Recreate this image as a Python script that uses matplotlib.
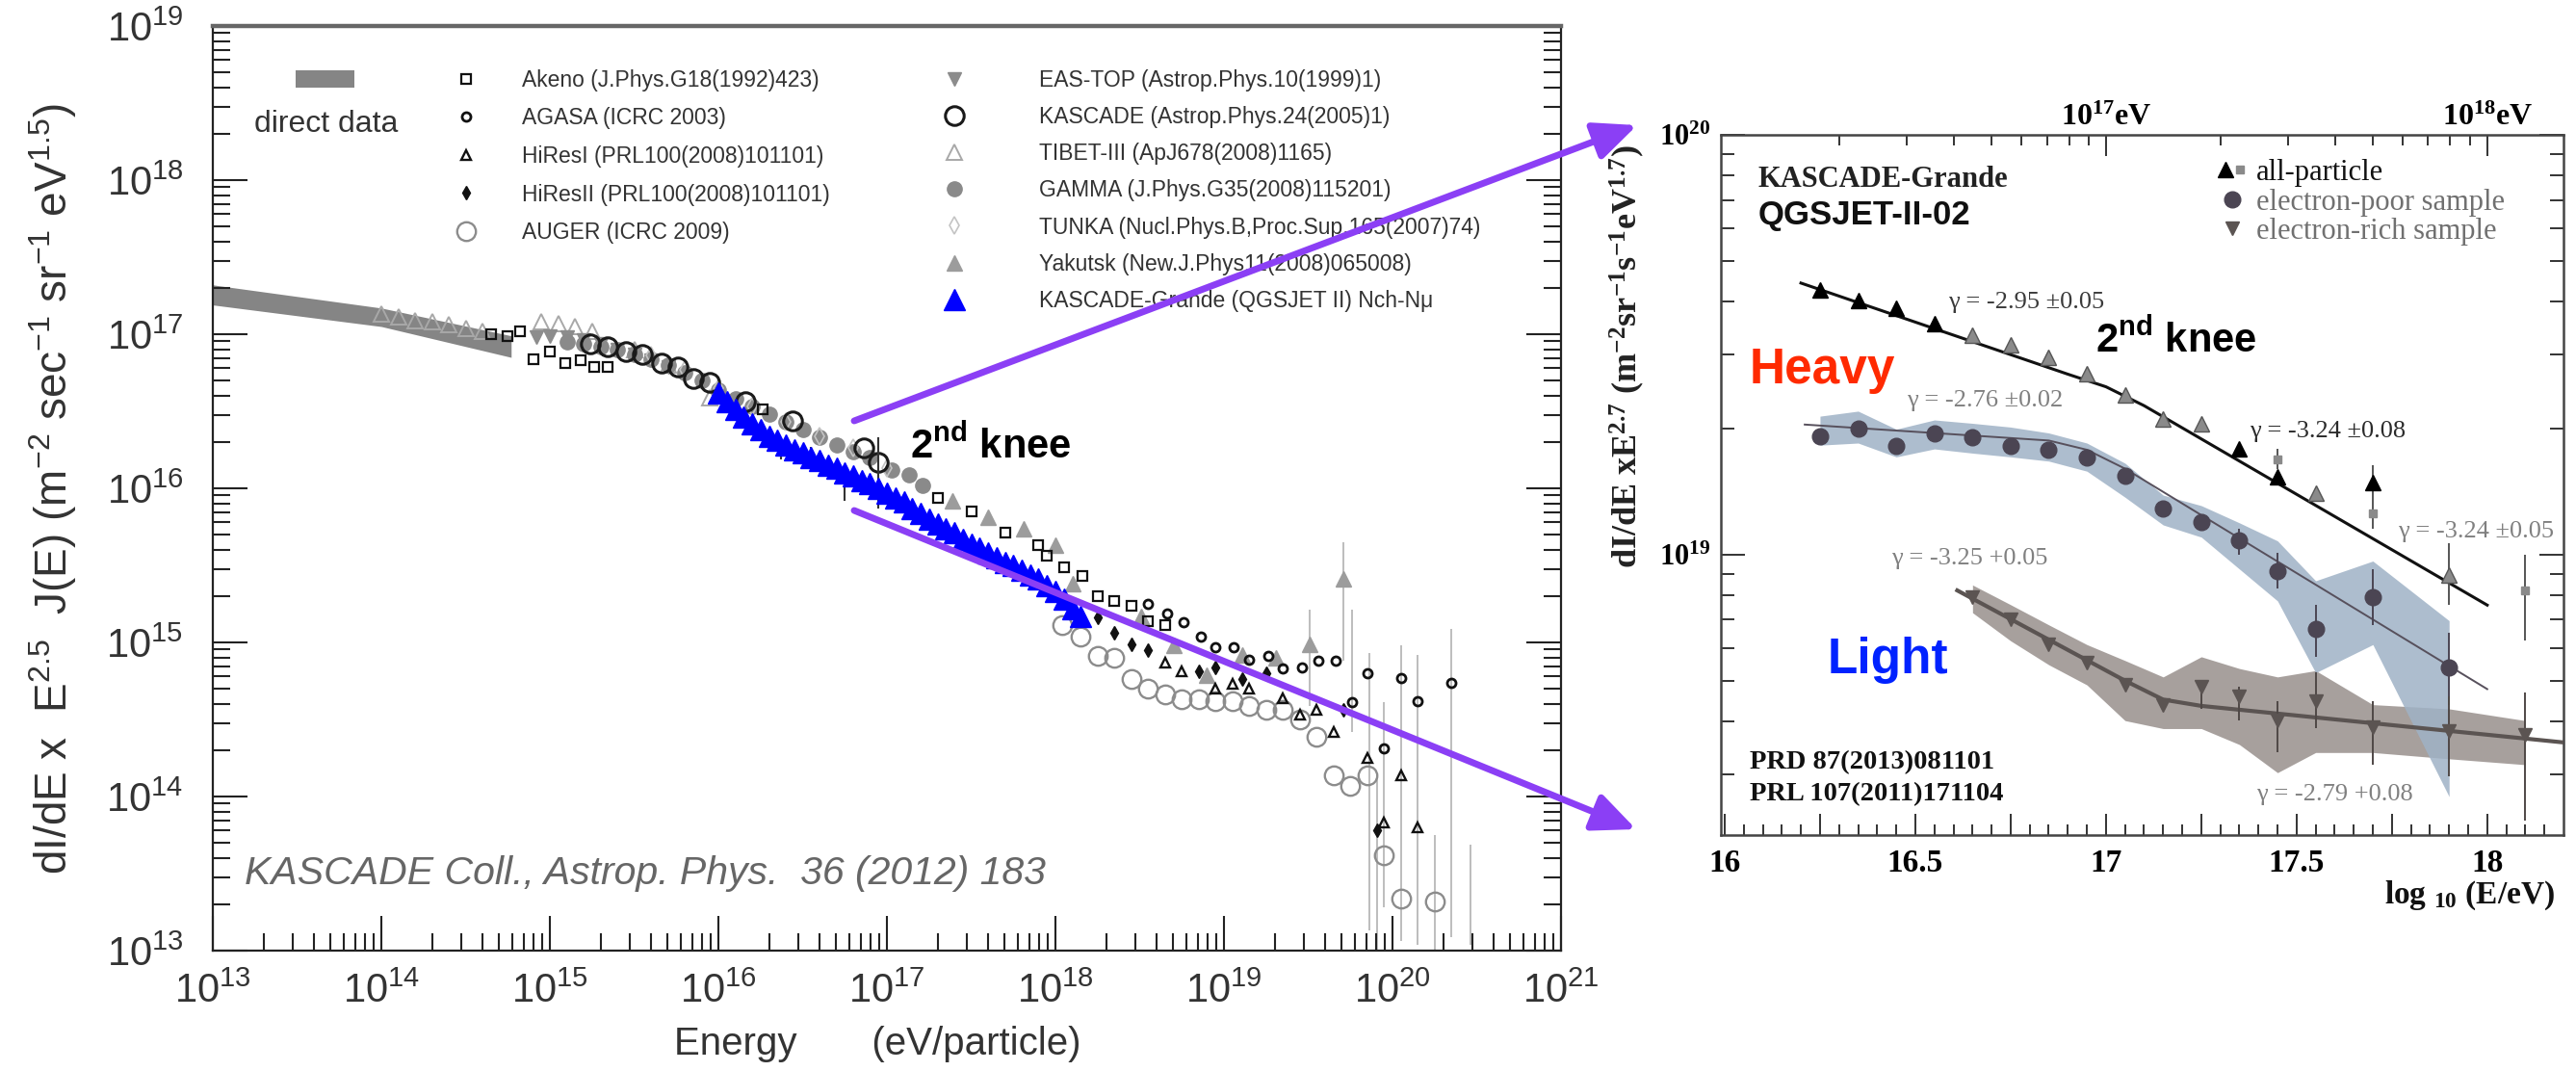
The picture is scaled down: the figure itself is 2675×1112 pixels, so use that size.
import numpy as np
import matplotlib
matplotlib.use('Agg')
import matplotlib.pyplot as plt
from matplotlib.patches import FancyArrowPatch
from matplotlib.legend_handler import HandlerTuple
from matplotlib.ticker import LogLocator, FuncFormatter, NullFormatter

SANS = ['Liberation Sans', 'DejaVu Sans']
SERIF = ['Liberation Serif', 'DejaVu Serif']
plt.rcParams['font.family'] = SANS

# ---------------- left panel data (log10 E [eV], log10 flux) ----------------
direct_logE = [13.0, 14.0, 14.77]
direct_hi = [17.32, 17.17, 16.99]
direct_lo = [17.19, 17.05, 16.85]

tibet_logE = [14.0, 14.1, 14.2, 14.3, 14.4, 14.5, 14.6, 14.95, 15.05, 15.15, 15.25, 15.5, 15.7, 15.95]
tibet_logF = [17.13, 17.11, 17.09, 17.08, 17.06, 17.04, 17.02, 17.08, 17.07, 17.05, 17.02, 16.90, 16.80, 16.59]

eastop_logE = [14.92, 15.0, 15.1, 15.2, 15.3, 15.4, 15.5, 15.6, 15.7]
eastop_logF = [16.98, 16.99, 16.98, 16.96, 16.94, 16.90, 16.87, 16.83, 16.79]

gamma_logE = [15.1, 15.2, 15.3, 15.4, 15.5, 15.6, 15.7, 15.8, 15.9, 16.0, 16.1, 16.2, 16.3, 16.4,
              16.5, 16.6, 16.7, 16.8, 16.9, 17.03, 17.13, 17.21]
gamma_logF = [16.95, 16.94, 16.92, 16.90, 16.87, 16.84, 16.80, 16.75, 16.70, 16.64, 16.58, 16.53,
              16.48, 16.43, 16.38, 16.33, 16.28, 16.24, 16.20, 16.12, 16.09, 16.02]

tunka_logE = [15.6, 15.8, 16.0, 16.2, 16.4, 16.6, 16.8, 17.0]
tunka_logF = [16.86, 16.77, 16.65, 16.53, 16.43, 16.34, 16.26, 16.13]

kascade_logE = [15.24, 15.34, 15.45, 15.55, 15.66, 15.76, 15.85, 15.95, 16.16, 16.44, 16.86, 16.95]
kascade_logF = [16.94, 16.92, 16.89, 16.87, 16.81, 16.79, 16.71, 16.69, 16.56, 16.44, 16.26, 16.17]

akeno_logE = [14.65, 14.75, 14.82, 14.90, 15.00, 15.09, 15.18, 15.26, 15.34, 16.26, 17.30, 17.50,
              17.70, 17.90, 17.95, 18.05, 18.16, 18.25, 18.35, 18.45, 18.55, 18.65]
akeno_logF = [17.00, 16.99, 17.02, 16.84, 16.89, 16.81, 16.83, 16.79, 16.79, 16.51, 15.94, 15.85,
              15.71, 15.63, 15.56, 15.49, 15.43, 15.30, 15.27, 15.24, 15.14, 15.11]

agasa_logE = [18.55, 18.66, 18.76, 18.86, 18.95, 19.06, 19.15, 19.26, 19.35, 19.46, 19.56, 19.66,
              19.76, 19.85, 19.95, 20.05, 20.15, 20.35]
agasa_logF = [15.25, 15.19, 15.13, 15.04, 14.97, 14.97, 14.89, 14.91, 14.83, 14.84, 14.88, 14.88,
              14.61, 14.80, 14.31, 14.77, 14.62, 14.74]

hires1_logE = [18.65, 18.75, 18.95, 19.05, 19.15, 19.35, 19.45, 19.55, 19.65, 19.85, 19.95, 20.05, 20.15]
hires1_logF = [14.87, 14.81, 14.70, 14.73, 14.70, 14.64, 14.53, 14.56, 14.42, 14.25, 13.83, 14.14, 13.80]

hires2_logE = [18.25, 18.35, 18.45, 18.55, 18.85, 18.95, 19.11, 19.25, 19.71, 19.91]
hires2_logF = [15.16, 15.06, 14.99, 14.95, 14.81, 14.84, 14.76, 14.80, 14.56, 13.78]

auger_logE = [18.04, 18.15, 18.25, 18.35, 18.45, 18.55, 18.65, 18.75, 18.85, 18.95, 19.05, 19.15,
              19.25, 19.35, 19.45, 19.55, 19.65, 19.75, 19.85, 19.95, 20.05, 20.25]
auger_logF = [15.11, 15.04, 14.91, 14.90, 14.76, 14.70, 14.66, 14.63, 14.63, 14.62, 14.62, 14.59,
              14.56, 14.56, 14.50, 14.39, 14.14, 14.07, 14.14, 13.62, 13.34, 13.32]

yakutsk_logE = [17.39, 17.60, 17.81, 18.00, 18.10, 18.51, 18.70, 18.90, 19.11, 19.31, 19.51, 19.71]
yakutsk_logF = [15.92, 15.81, 15.74, 15.63, 15.38, 15.17, 14.98, 14.79, 14.92, 14.90, 14.99, 15.41]

kg_logE = [16.00, 16.05, 16.10, 16.15, 16.20, 16.25, 16.30, 16.35, 16.40, 16.45, 16.50, 16.55,
           16.60, 16.65, 16.70, 16.75, 16.80, 16.85, 16.90, 16.95, 17.00, 17.05, 17.10, 17.15,
           17.20, 17.25, 17.30, 17.35, 17.40, 17.45, 17.50, 17.55, 17.60, 17.65, 17.70, 17.75,
           17.80, 17.85, 17.90, 17.95, 18.00, 18.05, 18.10, 18.15]
kg_logF = [16.62, 16.56, 16.51, 16.46, 16.42, 16.38, 16.34, 16.31, 16.28, 16.25, 16.23, 16.20,
           16.18, 16.15, 16.13, 16.10, 16.08, 16.05, 16.03, 16.00, 15.97, 15.94, 15.91, 15.87,
           15.84, 15.80, 15.77, 15.74, 15.71, 15.67, 15.64, 15.61, 15.58, 15.55, 15.52, 15.50,
           15.47, 15.44, 15.41, 15.37, 15.33, 15.28, 15.22, 15.17]

kg_err_logE = [16.37, 16.55, 16.75, 16.95]
kg_err_lo = [16.19, 16.12, 15.92, 15.87]
kg_err_hi = [16.29, 16.27, 16.13, 16.33]

tail_err_logE = [19.51, 19.71, 19.76, 19.86, 19.91, 19.95, 20.05, 20.15, 20.25, 20.35, 20.46]
tail_err_lo = [14.59, 14.88, 14.42, 13.13, 13.00, 13.28, 13.06, 13.04, 13.00, 13.09, 13.04]
tail_err_hi = [15.21, 15.65, 15.21, 14.93, 14.13, 14.61, 14.98, 14.92, 13.75, 15.09, 13.69]

labels_col1 = ['Akeno (J.Phys.G18(1992)423)', 'AGASA (ICRC 2003)', 'HiResI (PRL100(2008)101101)',
               'HiResII (PRL100(2008)101101)', 'AUGER (ICRC 2009)']
labels_col2 = ['EAS-TOP (Astrop.Phys.10(1999)1)', 'KASCADE (Astrop.Phys.24(2005)1)',
               'TIBET-III (ApJ678(2008)1165)', 'GAMMA (J.Phys.G35(2008)115201)',
               'TUNKA (Nucl.Phys.B,Proc.Sup.165(2007)74)', 'Yakutsk (New.J.Phys11(2008)065008)',
               'KASCADE-Grande (QGSJET II) Nch-N\u03bc']

# ---------------- right panel data (log10 E, log10 flux*E^2.7) ----------------
ap_logE = [16.25, 16.35, 16.45, 16.55, 17.35, 17.45, 17.70]
ap_logF = [19.630, 19.605, 19.586, 19.551, 19.252, 19.185, 19.171]
apg_logE = [16.65, 16.75, 16.85, 16.95, 17.05, 17.15, 17.25, 17.55, 17.90]
apg_logF = [19.523, 19.499, 19.470, 19.432, 19.380, 19.323, 19.313, 19.147, 18.952]
apsq_logE = [17.45, 17.70, 18.10]
apsq_logF = [19.228, 19.099, 18.914]
ap_err_logE = [17.45, 17.70, 17.70, 17.90, 18.10]
ap_err_lo = [19.204, 19.128, 19.061, 18.881, 18.795]
ap_err_hi = [19.252, 19.213, 19.128, 19.028, 18.999]
ap_fit_logE = [16.20, 16.90, 17.00, 17.10, 18.00]
ap_fit_logF = [19.647, 19.430, 19.400, 19.355, 18.880]

ep_logE = [16.25, 16.35, 16.45, 16.55, 16.65, 16.75, 16.85, 16.95, 17.05, 17.15, 17.25, 17.35,
           17.45, 17.55, 17.70, 17.90]
ep_logF = [19.282, 19.300, 19.259, 19.288, 19.280, 19.259, 19.250, 19.232, 19.187, 19.111, 19.079,
           19.035, 18.962, 18.823, 18.898, 18.731]
ep_band_hi = [19.330, 19.342, 19.299, 19.321, 19.313, 19.304, 19.290, 19.266, 19.218, 19.142, 19.117,
              19.076, 19.033, 18.938, 18.985, 18.843]
ep_band_lo = [19.261, 19.266, 19.233, 19.252, 19.242, 19.233, 19.223, 19.199, 19.137, 19.071, 19.042,
              18.966, 18.890, 18.719, 18.786, 18.424]
ep_err_logE = [17.35, 17.45, 17.55, 17.70, 17.90]
ep_err_lo = [18.999, 18.919, 18.757, 18.833, 18.643]
ep_err_hi = [19.061, 19.004, 18.881, 18.966, 18.814]
ep_fit_logE = [16.21, 16.85, 16.95, 17.05, 18.00]
ep_fit_logF = [19.310, 19.272, 19.250, 19.205, 18.680]

er_logE = [16.65, 16.75, 16.85, 16.95, 17.05, 17.15, 17.25, 17.35, 17.45, 17.55, 17.70, 17.90, 18.10]
er_logF = [18.900, 18.847, 18.786, 18.743, 18.690, 18.643, 18.686, 18.662, 18.605, 18.652, 18.590,
           18.581, 18.572]
er_band_hi = [18.928, 18.881, 18.833, 18.786, 18.748, 18.709, 18.757, 18.729, 18.709, 18.724, 18.643,
              18.633, 18.605]
er_band_lo = [18.862, 18.795, 18.738, 18.690, 18.605, 18.586, 18.586, 18.548, 18.481, 18.529, 18.529,
              18.514, 18.500]
er_err_logE = [17.25, 17.35, 17.45, 17.55, 17.70, 17.90, 18.10]
er_err_lo = [18.633, 18.605, 18.529, 18.586, 18.500, 18.472, 18.367]
er_err_hi = [18.700, 18.686, 18.652, 18.719, 18.652, 18.662, 18.671]
er_fit_logE = [16.61, 17.05, 17.15, 17.25, 18.20]
er_fit_logF = [18.915, 18.700, 18.655, 18.640, 18.553]

W, H = 2675, 1112
fig = plt.figure(figsize=(W / 100, H / 100), dpi=100)


def fx(px):
    return px / W


def fy(py):
    return 1 - py / H


def txt(x, y, s, **kw):
    kw.setdefault('va', 'center')
    fig.text(fx(x), fy(y), s, **kw)


def P(a):
    return 10.0 ** np.asarray(a)


# ======================= left panel =======================
ax = fig.add_axes([fx(221), fy(987), 1400 / W, 960 / H])
ax.set_xscale('log')
ax.set_yscale('log')
ax.set_xlim(1e13, 1e21)
ax.set_ylim(1e13, 1e19)

band = ax.fill_between(P(direct_logE), P(direct_lo), P(direct_hi), color='#858585', lw=0, zorder=1)
ax.vlines(P(tail_err_logE), P(tail_err_lo), P(tail_err_hi), color='#b8b8b8', lw=1.3, zorder=1)
ax.vlines(P(kg_err_logE), P(kg_err_lo), P(kg_err_hi), color='#333333', lw=1.5, zorder=4)

tib, = ax.plot(P(tibet_logE), P(tibet_logF), ls='none', marker='^', ms=11, mfc='none', mec='#a8a8a8', mew=1.4, zorder=2)
eas, = ax.plot(P(eastop_logE), P(eastop_logF), ls='none', marker='v', ms=10, color='#8c8c8c', zorder=2)
gam, = ax.plot(P(gamma_logE), P(gamma_logF), ls='none', marker='o', ms=11, color='#8a8a8a', zorder=2)
tun, = ax.plot(P(tunka_logE), P(tunka_logF), ls='none', marker='d', ms=9, mfc='none', mec='#c4c4c4', mew=1.2, zorder=2)
kas, = ax.plot(P(kascade_logE), P(kascade_logF), ls='none', marker='o', ms=14, mfc='none', mec='#1a1a1a', mew=2.2, zorder=3)
yak, = ax.plot(P(yakutsk_logE), P(yakutsk_logF), ls='none', marker='^', ms=12, color='#9c9c9c', zorder=3)
aug, = ax.plot(P(auger_logE), P(auger_logF), ls='none', marker='o', ms=14, mfc='none', mec='#8c8c8c', mew=1.7, zorder=3)
ake, = ax.plot(P(akeno_logE), P(akeno_logF), ls='none', marker='s', ms=6.5, mfc='none', mec='#111111', mew=1.6, zorder=4)
aga, = ax.plot(P(agasa_logE), P(agasa_logF), ls='none', marker='o', ms=6.5, mfc='none', mec='#111111', mew=2.0, zorder=4)
hr1, = ax.plot(P(hires1_logE), P(hires1_logF), ls='none', marker='^', ms=7.5, mfc='none', mec='#111111', mew=1.7, zorder=4)
hr2, = ax.plot(P(hires2_logE), P(hires2_logF), ls='none', marker='d', ms=7, color='#111111', zorder=4)
kg, = ax.plot(P(kg_logE), P(kg_logF), ls='none', marker='^', ms=16, color='#0000ff', zorder=5)

fmt10 = FuncFormatter(lambda v, p: r'$\mathregular{10^{%d}}$' % round(np.log10(v)))
for axis in (ax.xaxis, ax.yaxis):
    axis.set_major_locator(LogLocator(base=10, numticks=30))
    axis.set_minor_locator(LogLocator(base=10, subs=np.arange(2, 10), numticks=100))
    axis.set_minor_formatter(NullFormatter())
    axis.set_major_formatter(fmt10)
ax.tick_params(which='both', direction='in', top=False, right=True, color='#222222', width=1.5,
               labelcolor='#333333', labelsize=30)
ax.tick_params(which='major', length=26)
ax.tick_params(which='minor', length=13)
ax.tick_params(axis='y', pad=22)
ax.tick_params(axis='x', pad=16)
for s in ('left', 'right', 'bottom'):
    ax.spines[s].set_color('#222222')
    ax.spines[s].set_linewidth(1.6)
ax.spines['top'].set_color('#666666')
ax.spines['top'].set_linewidth(3.2)

leg0 = ax.legend([band], [''], loc='center left', bbox_to_anchor=(fx(307), fy(85)),
                 bbox_transform=fig.transFigure, frameon=False, fontsize=20, handlelength=2.2,
                 handleheight=0.6, borderpad=0, borderaxespad=0, handletextpad=0)
ax.add_artist(leg0)
leg1 = ax.legend([ake, aga, hr1, hr2, aug], labels_col1, loc='upper left',
                 bbox_to_anchor=(fx(473), fy(72)), bbox_transform=fig.transFigure, frameon=False,
                 fontsize=16.5, handlelength=1.0, handletextpad=2.0, labelspacing=0.72,
                 borderpad=0, borderaxespad=0, labelcolor='#333333')
ax.add_artist(leg1)
leg2 = ax.legend([eas, kas, tib, gam, tun, yak, kg], labels_col2, loc='upper left',
                 bbox_to_anchor=(fx(980), fy(72)), bbox_transform=fig.transFigure, frameon=False,
                 fontsize=16.5, handlelength=1.0, handletextpad=3.3, labelspacing=0.66,
                 borderpad=0, borderaxespad=0, labelcolor='#333333')

txt(339, 129, 'direct data', fontsize=23, color='#333333', ha='center')
txt(945, 463, r'2$\mathregular{^{nd}}$ knee', fontsize=30, fontweight='bold', color='black')
txt(254, 907, 'KASCADE Coll., Astrop. Phys.  36 (2012) 183', fontsize=29.5, style='italic', color='#666666')
txt(55, 508, r'dI/dE x  E$\mathregular{^{2.5}}$  J(E) (m$\mathregular{^{-2}}$ sec$\mathregular{^{-1}}$ '
             r'sr$\mathregular{^{-1}}$ eV$\mathregular{^{1.5}}$)',
    fontsize=33, rotation=90, ha='center', color='#333333')
txt(911, 1084, 'Energy       (eV/particle)', fontsize=29, ha='center', color='#333333')

# ======================= right panel =======================
ax2 = fig.add_axes([fx(1787), fy(867), 875 / W, 727 / H])
ax2.set_yscale('log')
ax2.set_xlim(15.99, 18.2)
ax2.set_ylim(2.15e18, 1e20)

ax2.fill_between(er_logE, P(er_band_lo), P(er_band_hi), color='#9e9693', alpha=0.9, lw=0, zorder=1)
ax2.fill_between(ep_logE, P(ep_band_lo), P(ep_band_hi), color='#9fb2c6', alpha=0.85, lw=0, zorder=1)
ax2.plot(ap_fit_logE, P(ap_fit_logF), color='#111111', lw=2.2, zorder=3)
ax2.plot(ep_fit_logE, P(ep_fit_logF), color='#57505c', lw=1.4, zorder=3)
ax2.plot(er_fit_logE, P(er_fit_logF), color='#5b5452', lw=3.0, zorder=3)
ax2.vlines(ap_err_logE, P(ap_err_lo), P(ap_err_hi), color='#555555', lw=1.4, zorder=3)
ax2.vlines(ep_err_logE, P(ep_err_lo), P(ep_err_hi), color='#4b4553', lw=1.4, zorder=3)
ax2.vlines(er_err_logE, P(er_err_lo), P(er_err_hi), color='#4f4846', lw=1.4, zorder=3)

ep, = ax2.plot(ep_logE, P(ep_logF), ls='none', marker='o', ms=12, color='#4b4553', zorder=4)
er, = ax2.plot(er_logE, P(er_logF), ls='none', marker='v', ms=10, color='#5b5452', zorder=4)
apg, = ax2.plot(apg_logE, P(apg_logF), ls='none', marker='^', ms=11, color='#8a8a8a', mec='#555555', zorder=4)
ap, = ax2.plot(ap_logE, P(ap_logF), ls='none', marker='^', ms=11, color='#000000', zorder=5)
apsq, = ax2.plot(apsq_logE, P(apsq_logF), ls='none', marker='s', ms=6, color='#8a8a8a', zorder=5)

xmaj = [16, 16.25, 16.5, 16.75, 17, 17.25, 17.5, 17.75, 18]
xlab = ['16', '', '16.5', '', '17', '', '17.5', '', '18']
ax2.set_xticks(xmaj, xlab, fontsize=24, fontweight='bold', fontfamily=SERIF)
ax2.set_xticks(np.arange(16, 18.2, 0.05), minor=True)
ax2.set_yticks([1e19, 1e20], [r'$\mathregular{10^{19}}$', r'$\mathregular{10^{20}}$'],
               fontsize=22, fontweight='bold', fontfamily=SERIF)
ax2.set_yticks([k * 1e18 for k in range(3, 10)] + [k * 1e19 for k in range(2, 10)], minor=True)
ax2.yaxis.set_minor_formatter(NullFormatter())
ax2.tick_params(which='both', direction='in', top=False, right=True, color='#333333', width=1.4)
ax2.tick_params(axis='x', which='major', length=16, pad=10)
ax2.tick_params(axis='x', which='minor', length=8)
ax2.tick_params(axis='y', which='major', length=18, pad=8)
ax2.tick_params(axis='y', which='minor', length=10)
for s in ax2.spines.values():
    s.set_color('#444444')
    s.set_linewidth(1.8)

sec = ax2.secondary_xaxis('top')
sec.set_xticks([17, 18], [r'$\mathregular{10^{17}}$eV', r'$\mathregular{10^{18}}$eV'],
               fontsize=23, fontweight='bold', fontfamily=SERIF)
sec.set_xticks([np.log10(k * 10.0 ** n) for n in (16, 17) for k in range(2, 10)], minor=True)
sec.tick_params(which='both', direction='in', color='#333333', width=1.4)
sec.tick_params(which='major', length=16, pad=2)
sec.tick_params(which='minor', length=8)
sec.spines['top'].set_visible(False)

ax2.legend([(ap, apsq), ep, er], ['all-particle', 'electron-poor sample', 'electron-rich sample'],
           handler_map={tuple: HandlerTuple(ndivide=None, pad=0)}, loc='upper left',
           bbox_to_anchor=(fx(2303), fy(165)), bbox_transform=fig.transFigure, frameon=False,
           prop={'family': SERIF, 'size': 22}, handlelength=1.0, handletextpad=0.3,
           labelspacing=0.05, borderpad=0, borderaxespad=0,
           labelcolor=['#111111', '#707070', '#707070'])

txt(1826, 186, 'KASCADE-Grande', fontsize=22, fontweight='bold', fontfamily=SERIF, color='#222222')
txt(1826, 223, 'QGSJET-II-02', fontsize=25, fontweight='bold', color='#111111')
gcol = '#808080'
txt(2023, 314, '\u03b3 = -2.95 \u00b10.05', fontsize=19, fontfamily=SERIF, color='#3a3a3a')
txt(1980, 416, '\u03b3 = -2.76 \u00b10.02', fontsize=19, fontfamily=SERIF, color=gcol)
txt(2336, 448, '\u03b3 = -3.24 \u00b10.08', fontsize=19, fontfamily=SERIF, color='#2a2a2a')
txt(2490, 552, '\u03b3 = -3.24 \u00b10.05', fontsize=19, fontfamily=SERIF, color=gcol)
txt(1964, 580, '\u03b3 = -3.25 +0.05', fontsize=19, fontfamily=SERIF, color=gcol)
txt(2343, 825, '\u03b3 = -2.79 +0.08', fontsize=19, fontfamily=SERIF, color=gcol)
txt(2176, 353, r'2$\mathregular{^{nd}}$ knee', fontsize=30, fontweight='bold', color='black')
txt(1817, 384, 'Heavy', fontsize=37, fontweight='bold', color='#ff2a00')
txt(1898, 686, 'Light', fontsize=37, fontweight='bold', color='#0022ff')
txt(1817, 792, 'PRD 87(2013)081101', fontsize=20.5, fontweight='bold', fontfamily=SERIF, color='#111111')
txt(1817, 825, 'PRL 107(2011)171104', fontsize=20.5, fontweight='bold', fontfamily=SERIF, color='#111111')
txt(1690, 370, r'dI/dE xE$\mathregular{^{2.7}}$ (m$\mathregular{^{-2}}$sr$\mathregular{^{-1}}$'
               r's$\mathregular{^{-1}}$eV$\mathregular{^{1.7}}$)',
    fontsize=26, fontweight='bold', fontfamily=SERIF, rotation=90, ha='center', color='#222222')
txt(2653, 930, r'log $\mathregular{_{10}}$ (E/eV)', fontsize=24, fontweight='bold', fontfamily=SERIF,
    ha='right', color='#111111')

# ======================= arrows =======================
for x0, y0, x1, y1 in [(887, 437, 1700, 130), (887, 530, 1699, 861)]:
    fig.add_artist(FancyArrowPatch((fx(x0), fy(y0)), (fx(x1), fy(y1)), transform=fig.transFigure,
                                   arrowstyle='-|>,head_length=27,head_width=12', mutation_scale=1,
                                   color='#8b3ff5', lw=5, shrinkA=0, shrinkB=0, zorder=10))

fig.savefig('out.png', dpi=100)
